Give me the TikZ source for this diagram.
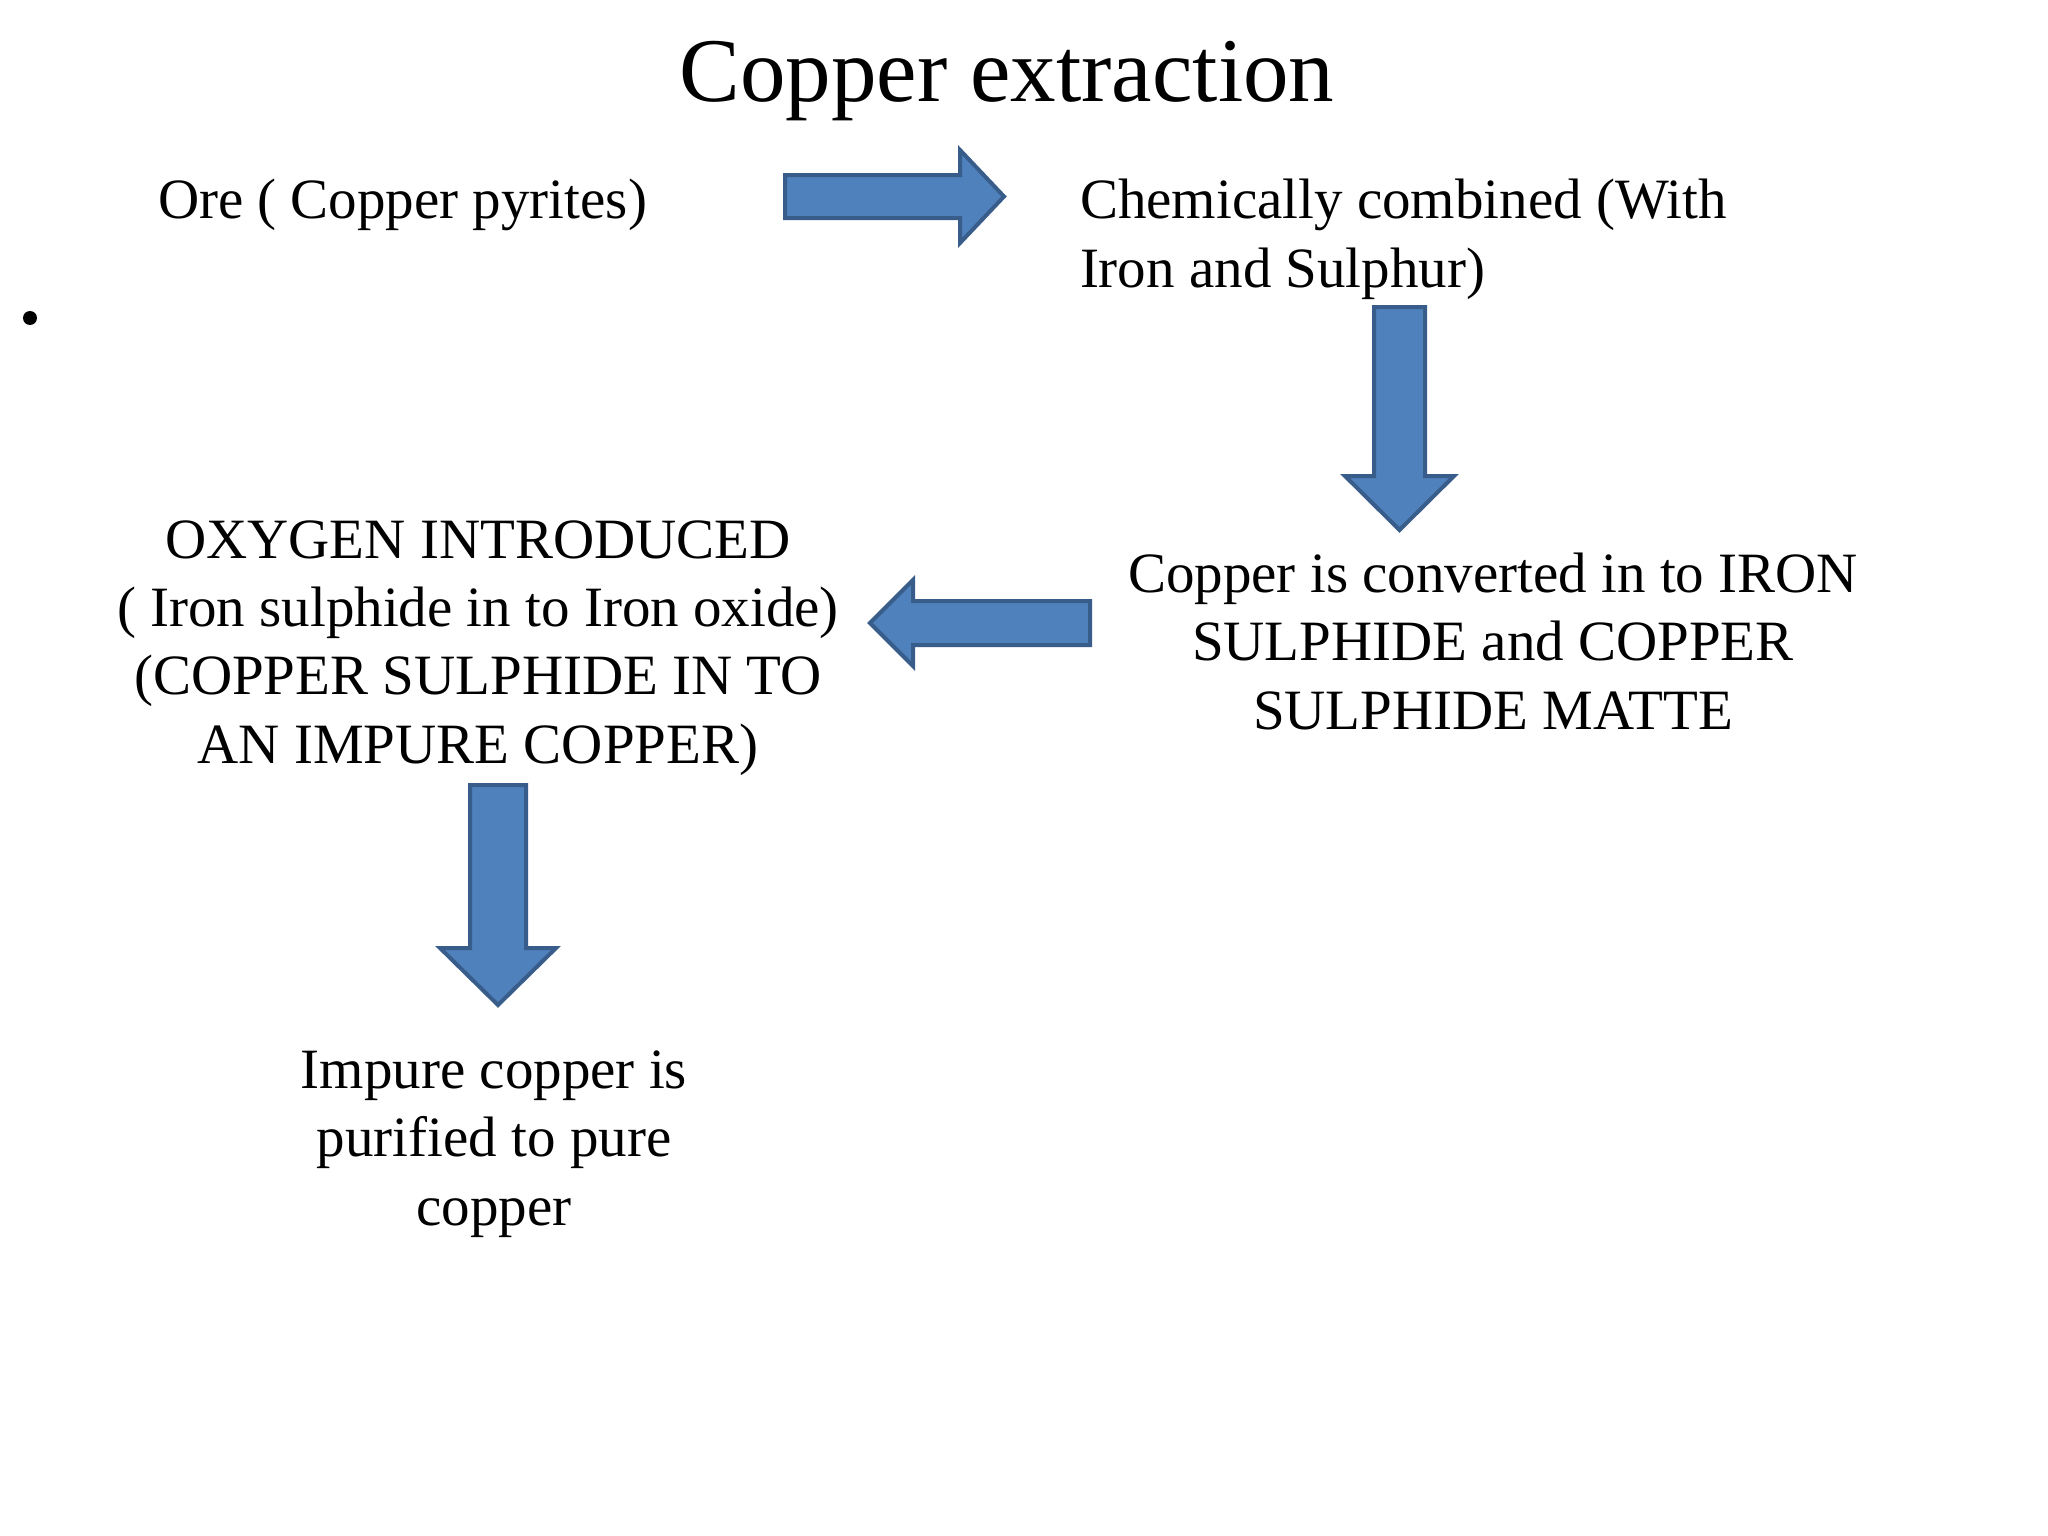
\documentclass[tikz,border=0pt]{standalone}
\usepackage{fontspec}
\setmainfont{Liberation Serif}
\definecolor{arrfill}{HTML}{4F81BD}
\definecolor{arrline}{HTML}{385D8A}
\begin{document}
\begin{tikzpicture}[x=1pt,y=-1pt,
  body/.style={font=\fontsize{57}{68.3}\selectfont, inner sep=0pt, outer sep=0pt},
  titletext/.style={font=\fontsize{91}{100}\selectfont, inner sep=0pt},
  blockarrow/.style={fill=arrfill, draw=arrline, line width=4pt, line join=miter}]
\useasboundingbox[fill=white] (0,0) rectangle (2048,1536);

\node[titletext, anchor=base] (title) at (1007,102) {Copper extraction};

\node[body, anchor=base west] (ore) at (158,218) {Ore ( Copper pyrites)};
\node[body, anchor=base west, align=left] (chem) at (1080,287) {Chemically combined (With\\Iron and Sulphur)};
\node[body, anchor=base, align=center] (conv) at (1493,729) {Copper is converted in to IRON\\SULPHIDE and COPPER\\SULPHIDE MATTE};
\node[body, anchor=base, align=center] (oxy) at (478,763) {OXYGEN INTRODUCED\\( Iron sulphide in to Iron oxide)\\(COPPER SULPHIDE IN TO\\AN IMPURE COPPER)};
\node[body, anchor=base, align=center] (pure) at (494,1225) {Impure copper is\\purified to pure\\copper};

\fill (30,318) circle (7);

% right arrow
\draw[blockarrow] (785,175) -- (960,175) -- (960,150) -- (1004,196.5) -- (960,243) -- (960,218) -- (785,218) -- cycle;
% down arrow (right)
\draw[blockarrow] (1374,307) -- (1425,307) -- (1425,476) -- (1454,476) -- (1399.5,530) -- (1345,476) -- (1374,476) -- cycle;
% left arrow
\draw[blockarrow] (1090,601) -- (1090,645) -- (913,645) -- (913,666) -- (870,623) -- (913,580) -- (913,601) -- cycle;
% down arrow (left)
\draw[blockarrow] (470,785) -- (526,785) -- (526,948) -- (556,948) -- (498,1005) -- (440,948) -- (470,948) -- cycle;
\end{tikzpicture}
\end{document}
